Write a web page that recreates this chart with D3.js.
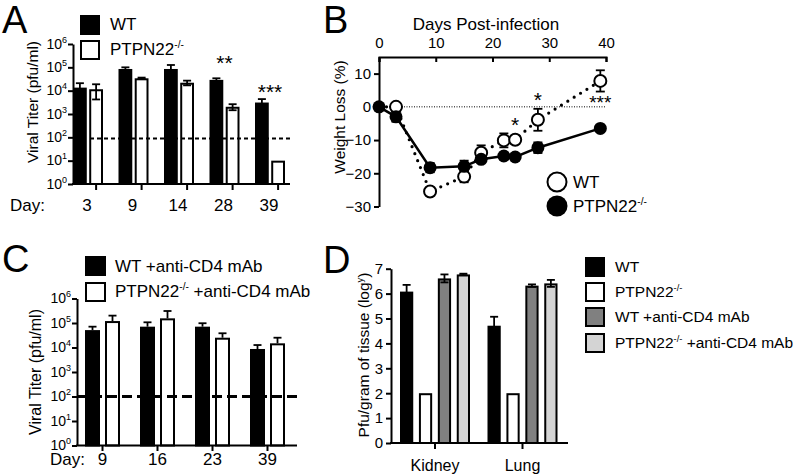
<!DOCTYPE html>
<html>
<head>
<meta charset="utf-8">
<script src="https://cdn.jsdelivr.net/npm/d3@7"></script>
<style>
  body { margin: 0; background: #fff; }
  svg { font-family: "Liberation Sans", Arial, Helvetica, sans-serif; }
</style>
</head>
<body>
<svg id="fig" width="793" height="475"></svg>
<script>
// ---- data ----
// Panel A: viral titer (pfu/ml), mean and SEM
const daysA = ["3", "9", "14", "28", "39"];
const wtA = [13500, 85000, 85000, 29000, 3100];
const wtA_sem = [7400, 15000, 41000, 4900, 1260];
const koA = [11500, 33900, 21900, 2040, 10];
const koA_sem = [7300, 2400, 5000, 590, 0];
const limitA = 90;
const starsA = [{ grp: "28", text: "**", at: 10 ** 4.9 }, { grp: "39", text: "***", at: 10 ** 3.63 }];

// Panel B: weight loss (%)
const daysB = [0, 3, 9, 15, 18, 22, 24, 28, 39];
const wtB = [0, 0, -25.5, -21, -13.8, -10.1, -9.9, -3.9, 7.8];
const wtB_sem = [0, 0.5, 1, 1.7, 2.2, 2.1, 0.8, 3.3, 3.2];
const koB = [0, -3, -18.3, -17.9, -15.8, -14.8, -15.1, -12.3, -6.5];
const koB_sem = [0, 1.5, 1.4, 1.7, 0.6, 0.5, 0.5, 1.6, 0.5];
const starsB = [{ day: 24, text: "*", at: -7.5 }, { day: 28, text: "*", at: 0 }, { day: 39, text: "***", at: -0.6 }];

// Panel C: viral titer with anti-CD4 (pfu/ml)
const daysC = ["9", "16", "23", "39"];
const wtC = [51300, 70800, 70800, 8700];
const wtC_sem = [19500, 36000, 27000, 3900];
const koC = [120000, 155000, 25100, 14800];
const koC_sem = [80000, 154000, 13000, 10300];
const limitC = 100;

// Panel D: pfu/gram of tissue (log)
const tissues = ["Kidney", "Lung"];
const seriesD = ["WT", "PTPN22", "WT +anti-CD4 mAb", "PTPN22 +anti-CD4 mAb"];
const valuesD = [[6.08, 4.71], [2.0, 2.0], [6.61, 6.32], [6.77, 6.41]];
const semD = [[0.27, 0.36], [0, 0], [0.16, 0.05], [0.03, 0.14]];
const fillsD = ["#000000", "#ffffff", "#808080", "#d4d4d4"];

// ---- drawing ----
const svg = d3.select("#fig");

function letter(x, y, t) {
  svg.append("text").attr("x", x).attr("y", y).attr("font-size", 38).text(t);
}

// text with a superscript part, e.g. PTPN22^-/-
function supText(g, x, y, base, sup, rest, size) {
  const t = g.append("text").attr("x", x).attr("y", y).attr("font-size", size);
  t.append("tspan").text(base);
  t.append("tspan").attr("font-size", size * 0.6).attr("dy", -size * 0.4).text(sup);
  if (rest) t.append("tspan").attr("dy", size * 0.4).text(rest);
  return t;
}

function logAxis(g, y, x0, exps) {
  const ax = g.append("g").attr("transform", `translate(${x0},0)`)
    .call(d3.axisLeft(y).tickValues(exps.map(e => 10 ** e)).tickSize(5).tickSizeOuter(0).tickFormat(""));
  ax.selectAll("path, line").attr("stroke", "#000").attr("stroke-width", 2);
  exps.forEach(e => {
    const t = g.append("text").attr("x", x0 - 6).attr("y", y(10 ** e) + 4.5)
      .attr("text-anchor", "end").attr("font-size", 14);
    t.append("tspan").text("10");
    t.append("tspan").attr("font-size", 9).attr("dy", -6).text(e);
  });
}

function errBar(g, x, yTop, yBot, w, lowerCap) {
  g.append("line").attr("x1", x).attr("x2", x).attr("y1", yTop).attr("y2", yBot)
    .attr("stroke", "#000").attr("stroke-width", 1.8);
  g.append("line").attr("x1", x - w / 2).attr("x2", x + w / 2).attr("y1", yTop).attr("y2", yTop)
    .attr("stroke", "#000").attr("stroke-width", 1.8);
  if (lowerCap) {
    g.append("line").attr("x1", x - w / 2).attr("x2", x + w / 2).attr("y1", yBot).attr("y2", yBot)
      .attr("stroke", "#000").attr("stroke-width", 1.8);
  }
}

function bars(g, xc, xi, y, base, groups, name, vals, sems, fill, both) {
  const bw = xi.bandwidth();
  g.selectAll(null).data(groups.map((grp, i) => ({ grp, v: vals[i], e: sems[i] })))
    .join("rect")
    .attr("x", d => xc(d.grp) + xi(name) + 1)
    .attr("y", d => y(d.v) + 1)
    .attr("width", bw - 2)
    .attr("height", d => y(base) - y(d.v) - 1)
    .attr("fill", fill).attr("stroke", "#000").attr("stroke-width", 2);
  groups.forEach((grp, i) => {
    if (!sems[i]) return;
    const cx = xc(grp) + xi(name) + bw / 2;
    const lo = Math.max(vals[i] - sems[i], base);
    errBar(g, cx, y(vals[i] + sems[i]), both ? y(lo) : y(vals[i]), 8, both);
  });
}

// ---------- Panel A ----------
(function () {
  const g = svg.append("g");
  const y = d3.scaleLog().domain([1, 1e6]).range([184, 44]);
  const xc = d3.scalePoint().domain(daysA).range([88, 270]);
  const xi = d3.scaleBand().domain(["WT", "KO"]).range([-15, 15]).paddingInner(0.15);

  bars(g, xc, xi, y, 1, daysA, "WT", wtA, wtA_sem, "#000", true);
  bars(g, xc, xi, y, 1, daysA, "KO", koA, koA_sem, "#fff", true);

  g.append("line").attr("x1", 90).attr("x2", 290).attr("y1", y(limitA)).attr("y2", y(limitA))
    .attr("stroke", "#000").attr("stroke-width", 2).attr("stroke-dasharray", "4 3");

  logAxis(g, y, 73, [0, 1, 2, 3, 4, 5, 6]);
  g.append("line").attr("x1", 72).attr("x2", 290).attr("y1", 184).attr("y2", 184)
    .attr("stroke", "#000").attr("stroke-width", 2);
  daysA.forEach(d => {
    const tx = xc(d) + xi("KO") + xi.bandwidth() / 2;
    g.append("line").attr("x1", tx).attr("x2", tx).attr("y1", 184).attr("y2", 190)
      .attr("stroke", "#000").attr("stroke-width", 2);
    g.append("text").attr("x", xc(d) - 1).attr("y", 211).attr("text-anchor", "middle")
      .attr("font-size", 17).text(d);
  });
  g.append("text").attr("x", 10).attr("y", 211).attr("font-size", 17).text("Day:");

  starsA.forEach(s => {
    g.append("text").attr("x", xc(s.grp)).attr("y", y(s.at)).attr("text-anchor", "middle")
      .attr("font-size", 21).text(s.text);
  });

  g.append("text").attr("transform", "translate(38,102) rotate(-90)")
    .attr("text-anchor", "middle").attr("font-size", 15.5).text("Viral Titer (pfu/ml)");

  g.append("rect").attr("x", 81).attr("y", 16).attr("width", 18).attr("height", 18)
    .attr("fill", "#000").attr("stroke", "#000").attr("stroke-width", 2);
  g.append("rect").attr("x", 81).attr("y", 41).attr("width", 18).attr("height", 18)
    .attr("fill", "#fff").attr("stroke", "#000").attr("stroke-width", 2);
  g.append("text").attr("x", 110).attr("y", 30).attr("font-size", 17).text("WT");
  supText(g, 110, 55, "PTPN22", "-/-", null, 17);
})();
letter(2, 33, "A");

// ---------- Panel B ----------
(function () {
  const g = svg.append("g");
  const x = d3.scaleLinear().domain([0, 40]).range([379, 606]);
  const y = d3.scaleLinear().domain([-30, 15]).range([206.5, 57]);

  const ax = g.append("g").attr("transform", "translate(0,57)")
    .call(d3.axisTop(x).tickValues([0, 10, 20, 30, 40]).tickSize(-5).tickPadding(9));
  ax.selectAll("path, line").attr("stroke", "#000").attr("stroke-width", 2);
  ax.selectAll("text").attr("font-size", 15).attr("font-family", null).attr("fill", "#000");

  const ay = g.append("g").attr("transform", "translate(379,0)")
    .call(d3.axisLeft(y).tickValues([10, 0, -10, -20, -30]).tickSize(5).tickSizeOuter(0).tickPadding(3));
  ay.selectAll("path, line").attr("stroke", "#000").attr("stroke-width", 2);
  ay.selectAll("text").attr("font-size", 15).attr("font-family", null).attr("fill", "#000");

  g.append("line").attr("x1", 379).attr("x2", 606).attr("y1", y(0)).attr("y2", y(0))
    .attr("stroke", "#000").attr("stroke-width", 1).attr("stroke-dasharray", "1 1.5");

  const line = d3.line().x(d => x(d[0])).y(d => y(d[1]));
  g.append("path").datum(daysB.map((d, i) => [d, wtB[i]])).attr("d", line)
    .attr("fill", "none").attr("stroke", "#000").attr("stroke-width", 3.2)
    .attr("stroke-linecap", "round").attr("stroke-dasharray", "0 7.5");
  g.append("path").datum(daysB.map((d, i) => [d, koB[i]])).attr("d", line)
    .attr("fill", "none").attr("stroke", "#000").attr("stroke-width", 2.5);

  daysB.forEach((d, i) => {
    if (koB_sem[i]) errBar(g, x(d), y(koB[i] + koB_sem[i]), y(koB[i] - koB_sem[i]), 9, true);
    if (wtB_sem[i]) errBar(g, x(d), y(wtB[i] + wtB_sem[i]), y(wtB[i] - wtB_sem[i]), 9, true);
  });

  g.selectAll(null).data(daysB.map((d, i) => [d, wtB[i]]).slice(1)).join("circle")
    .attr("cx", d => x(d[0])).attr("cy", d => y(d[1])).attr("r", 6)
    .attr("fill", "#fff").attr("stroke", "#000").attr("stroke-width", 2);
  g.selectAll(null).data(daysB.map((d, i) => [d, koB[i]])).join("circle")
    .attr("cx", d => x(d[0])).attr("cy", d => y(d[1])).attr("r", 6.5).attr("fill", "#000");

  starsB.forEach(s => {
    g.append("text").attr("x", x(s.day)).attr("y", y(s.at)).attr("text-anchor", "middle")
      .attr("font-size", s.text.length > 1 ? 19 : 21).text(s.text);
  });

  g.append("text").attr("x", 486).attr("y", 30).attr("text-anchor", "middle")
    .attr("font-size", 17).text("Days Post-infection");
  g.append("text").attr("transform", "translate(345,117) rotate(-90)")
    .attr("text-anchor", "middle").attr("font-size", 15.5).text("Weight Loss (%)");

  g.append("circle").attr("cx", 557).attr("cy", 182).attr("r", 9.5)
    .attr("fill", "#fff").attr("stroke", "#000").attr("stroke-width", 2);
  g.append("circle").attr("cx", 557).attr("cy", 206).attr("r", 10.5).attr("fill", "#000");
  g.append("text").attr("x", 573).attr("y", 188).attr("font-size", 17).text("WT");
  supText(g, 573, 212, "PTPN22", "-/-", null, 17);
})();
letter(323, 33, "B");

// ---------- Panel C ----------
(function () {
  const g = svg.append("g");
  const y = d3.scaleLog().domain([1, 1e6]).range([445.5, 298.5]);
  const xc = d3.scalePoint().domain(daysC).range([102.5, 267.5]);
  const xi = d3.scaleBand().domain(["WT", "KO"]).range([-17.5, 17.5]).paddingInner(0.25);

  bars(g, xc, xi, y, 1, daysC, "WT", wtC, wtC_sem, "#000", false);
  bars(g, xc, xi, y, 1, daysC, "KO", koC, koC_sem, "#fff", false);

  g.append("line").attr("x1", 77).attr("x2", 297).attr("y1", y(limitC)).attr("y2", y(limitC))
    .attr("stroke", "#000").attr("stroke-width", 3).attr("stroke-dasharray", "10 5");

  logAxis(g, y, 77, [0, 1, 2, 3, 4, 5, 6]);
  g.append("line").attr("x1", 76).attr("x2", 297).attr("y1", 445.5).attr("y2", 445.5)
    .attr("stroke", "#000").attr("stroke-width", 2);
  daysC.forEach(d => {
    g.append("line").attr("x1", xc(d)).attr("x2", xc(d)).attr("y1", 445.5).attr("y2", 451)
      .attr("stroke", "#000").attr("stroke-width", 2);
    g.append("text").attr("x", xc(d)).attr("y", 465).attr("text-anchor", "middle")
      .attr("font-size", 17).text(d);
  });
  g.append("text").attr("x", 50).attr("y", 465).attr("font-size", 17).text("Day:");

  g.append("text").attr("transform", "translate(41,372) rotate(-90)")
    .attr("text-anchor", "middle").attr("font-size", 16).text("Viral Titer (pfu/ml)");

  g.append("rect").attr("x", 86).attr("y", 257).attr("width", 19).attr("height", 18)
    .attr("fill", "#000").attr("stroke", "#000").attr("stroke-width", 2);
  g.append("rect").attr("x", 86).attr("y", 283).attr("width", 19).attr("height", 18)
    .attr("fill", "#fff").attr("stroke", "#000").attr("stroke-width", 2);
  g.append("text").attr("x", 115).attr("y", 272).attr("font-size", 17).text("WT +anti-CD4 mAb");
  supText(g, 115, 297, "PTPN22", "-/-", " +anti-CD4 mAb", 17);
})();
letter(2, 272, "C");

// ---------- Panel D ----------
(function () {
  const g = svg.append("g");
  const y = d3.scaleLinear().domain([0, 7]).range([443, 268.7]);
  const xc = d3.scalePoint().domain(tissues).range([435, 522.5]);
  const xi = d3.scaleBand().domain(seriesD).range([-35, 35]).paddingInner(0.3);

  seriesD.forEach((s, si) => {
    bars(g, xc, xi, y, 0, tissues, s, valuesD[si], semD[si], fillsD[si], true);
  });

  const ay = g.append("g").attr("transform", "translate(391,0)")
    .call(d3.axisLeft(y).tickValues(d3.range(0, 8)).tickFormat(d3.format("d"))
      .tickSize(5).tickSizeOuter(0).tickPadding(3));
  ay.selectAll("path, line").attr("stroke", "#000").attr("stroke-width", 2);
  ay.selectAll("text").attr("font-size", 15).attr("font-family", null).attr("fill", "#000");

  g.append("line").attr("x1", 390).attr("x2", 568).attr("y1", 443).attr("y2", 443)
    .attr("stroke", "#000").attr("stroke-width", 2);
  tissues.forEach(t => {
    g.append("line").attr("x1", xc(t)).attr("x2", xc(t)).attr("y1", 443).attr("y2", 449)
      .attr("stroke", "#000").attr("stroke-width", 2);
    g.append("text").attr("x", xc(t)).attr("y", 471).attr("text-anchor", "middle")
      .attr("font-size", 16).text(t);
  });

  supText(g, 0, 0, "Pfu/gram of tissue (log", "y", ")", 15.5)
    .attr("transform", "translate(369,355) rotate(-90)").attr("text-anchor", "middle");

  const labels = [["WT", null, null], ["PTPN22", "-/-", null], ["WT +anti-CD4 mAb", null, null], ["PTPN22", "-/-", " +anti-CD4 mAb"]];
  const ly = [258, 283, 308, 334];
  labels.forEach((l, i) => {
    g.append("rect").attr("x", 586).attr("y", ly[i]).attr("width", 18).attr("height", 18)
      .attr("fill", fillsD[i]).attr("stroke", "#000").attr("stroke-width", 2);
    if (l[1]) supText(g, 615, ly[i] + 14, l[0], l[1], l[2], 15.5);
    else g.append("text").attr("x", 615).attr("y", ly[i] + 14).attr("font-size", 15.5).text(l[0]);
  });
})();
letter(323, 273, "D");
</script>
</body>
</html>
